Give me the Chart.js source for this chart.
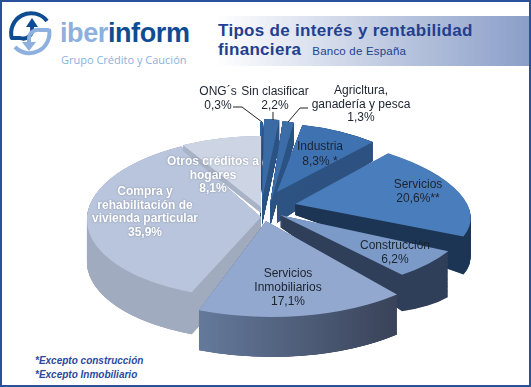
<!DOCTYPE html>
<html lang="es">
<head>
<meta charset="UTF-8">
<title>Tipos de interés y rentabilidad financiera</title>
<script src="https://cdn.jsdelivr.net/npm/chart.js"></script>
<style>
    html, body { margin: 0; padding: 0; background: #fff; }
    #page { position: relative; width: 531px; height: 387px; overflow: hidden; font-family: "Liberation Sans", Arial, sans-serif; }
    #frame { position: absolute; left: 0; top: 0; width: 527px; height: 383px; border: 2px solid #2a4f9b; }
    #logo { position: absolute; left: 6px; top: 9px; }
    #brand { position: absolute; left: 60px; top: 18px; font-size: 27px; font-weight: bold; color: #8db0de; letter-spacing: -0.4px; }
    #brand b { color: #0f4c92; }
    #group { position: absolute; left: 61px; top: 52px; font-family: "Open Sans", sans-serif; font-size: 11px; color: #8db0de; }
    #banner { position: absolute; left: 216px; top: 16px; width: 313px; height: 50px; background: linear-gradient(to right, #fff, #8a9ec8); }
    #title { position: absolute; left: 218px; top: 21px; font-size: 17px; line-height: 19px; font-weight: bold; color: #233f8f; letter-spacing: 0.3px; white-space: nowrap; }
    #title span { font-size: 11.5px; font-weight: normal; letter-spacing: 0.2px; margin-left: 6px; }
    #notes { position: absolute; left: 35px; top: 354px; font-size: 10px; line-height: 13.5px; font-weight: bold; font-style: italic; color: #2a4a9f; }
    #chart { position: absolute; left: 0; top: 0; }
</style>
</head>
<body>
<div id="page">
    <div id="frame"></div>
    <svg id="logo" width="48" height="48" viewBox="0 0 48 48" fill="none">
        <path d="M6 30 A20 20 0 0 1 41 12" stroke="#0f4c92" stroke-width="4"/>
        <path d="M43 20 A20 20 0 0 1 9 38" stroke="#8db0de" stroke-width="4"/>
        <path d="M5 29 H14 A9 9 0 0 0 26 19 V16" stroke="#0f4c92" stroke-width="4"/>
        <path d="M20 18 L26 9 L32 18 Z" fill="#0f4c92"/>
        <path d="M43 21 H34 A9 9 0 0 0 23 30 V33" stroke="#8db0de" stroke-width="4"/>
        <path d="M16 33 H30 L23 42 Z" fill="#8db0de"/>
    </svg>
    <div id="brand">iber<b>inform</b></div>
    <div id="group">Grupo Crédito y Caución</div>
    <div id="banner"></div>
    <div id="title">Tipos de interés y rentabilidad<br>financiera <span>Banco de España</span></div>
    <div id="notes">*Excepto construcción<br>*Excepto Inmobiliario</div>
    <canvas id="chart" width="531" height="387"></canvas>
</div>

<script>
    const categories = ['ONG´s', 'Sin clasificar', 'Agricltura, ganadería y pesca', 'Industria', 'Servicios',
        'Construcción', 'Servicios Inmobiliarios', 'Compra y rehabilitación de vivienda particular', 'Otros créditos a hogares'];
    const values = [0.3, 2.2, 1.3, 8.3, 20.6, 6.2, 17.1, 35.9, 8.1];
    const labelLines = [
        ['ONG´s', '0,3%'],
        ['Sin clasificar', '2,2%'],
        ['Agricltura,', 'ganadería y pesca', '1,3%'],
        ['Industria', '8,3% *'],
        ['Servicios', '20,6%**'],
        ['Construcción', '6,2%'],
        ['Servicios', 'Inmobiliarios', '17,1%'],
        ['Compra y', 'rehabilitación de', 'vivienda particular', '35,9%'],
        ['Otros créditos a', 'hogares', '8,1%']
    ];
    const faceColors = ['#2f5f9c', '#3b6ba5', '#3d6da8', '#3f72b0', '#4a7dbb', '#7c9ac8', '#92a8cf', '#b9c5dc', '#cdd5e5'];

    // how each exploded slice sits on the page: apex, radii, skew, wall depth and flare
    const sliceShape = [
        { x: 260, y: 212, rx: 160, ry: 90, skew: 0, depth: 12, flare: 0, wall: ['#24466f', '#24466f'] },
        { x: 262, y: 200, rx: 110, ry: 81, skew: 0, depth: 25, flare: 0, wall: ['#2a5283', '#2a5283'] },
        { x: 270, y: 205, rx: 135, ry: 85, skew: 0.1, depth: 22, flare: 0, wall: ['#2a5283', '#2a5283'] },
        { x: 277, y: 192, rx: 150, ry: 69, skew: 0.15, depth: 31, flare: -0.125, wall: ['#2d5585', '#2d5080'] },
        { x: 295, y: 204, rx: 172, ry: 70, skew: 0.5, depth: 11, flare: 0.16, wall: ['#1d3554', '#1d3554'] },
        { x: 280, y: 215, rx: 190, ry: 78, skew: 0, depth: 12, flare: 0.2, wall: ['#2f3f5a', '#2f3f5a'] },
        { x: 266, y: 221, rx: 197, ry: 96, skew: 0.06, depth: 40, flare: 0, wall: ['#667b9d', '#323a4e'] },
        { x: 261, y: 217, rx: 174, ry: 81, skew: -0.07, depth: 42, flare: 0, wall: ['#a0abbf', '#a3aab8'] },
        { x: 261, y: 207, rx: 160, ry: 71, skew: 0, depth: 6, flare: 0, wall: ['#a9b3c6', '#a9b3c6'] }
    ];
    const drawOrder = [1, 2, 0, 7, 8, 3, 4, 5, 6];

    const labelSpots = [
        { x: 218, y: 92, step: 13.5 },
        { x: 275, y: 92, step: 14 },
        { x: 361, y: 91, step: 13.5 },
        { x: 320, y: 147, step: 15 },
        { x: 418, y: 185, step: 13.5 },
        { x: 395, y: 246, step: 13.5 },
        { x: 288, y: 274, step: 14 },
        { x: 145, y: 192, step: 13.4, light: true },
        { x: 213, y: 162, step: 13.5, light: true }
    ];
    const leaders = [
        [[233, 107], [242, 107], [262, 122]],
        [[273, 112], [273, 120]],
        [[308, 108], [300, 108], [288, 122]]
    ];

    const BASE_RADIUS = 100;
    const STEPS_PER_PX = 6;

    function placeSlice(ctx, arc, s) {
        ctx.translate(s.x, s.y);
        ctx.transform(s.rx / BASE_RADIUS, 0, s.skew * s.ry / BASE_RADIUS, s.ry / BASE_RADIUS, 0, 0);
        ctx.translate(-arc.x, -arc.y);
    }

    function drawSlice(ctx, arc, s) {
        const faceOptions = arc.options;

        // wall: the library's arc repeated downwards
        const grad = ctx.createLinearGradient(arc.x - 40, 0, arc.x + 80, 0);
        grad.addColorStop(0, s.wall[0]);
        grad.addColorStop(1, s.wall[1]);
        arc.options = Object.assign({}, faceOptions, { backgroundColor: grad, borderWidth: 0 });
        const steps = s.depth * STEPS_PER_PX;
        for (let j = steps; j > 0; j--) {
            const t = j / steps;
            ctx.save();
            ctx.translate(s.x, s.y + s.depth * t);
            ctx.transform(1, s.flare * t, 0, 1, 0, 0);
            ctx.translate(-s.x, -s.y);
            placeSlice(ctx, arc, s);
            arc.draw(ctx);
            ctx.restore();
        }

        // top face
        arc.options = Object.assign({}, faceOptions, { borderWidth: 0 });
        ctx.save();
        placeSlice(ctx, arc, s);
        arc.draw(ctx);
        ctx.restore();
        arc.options = faceOptions;
    }

    const piePlugin = {
        id: 'tiltedPie',
        beforeDatasetDraw: function () { return false; },
        afterDraw: function (chart) {
            const ctx = chart.ctx;
            const arcs = chart.getDatasetMeta(0).data;
            drawOrder.forEach(function (i) { drawSlice(ctx, arcs[i], sliceShape[i]); });

            ctx.strokeStyle = '#222';
            ctx.lineWidth = 1;
            leaders.forEach(function (line) {
                ctx.beginPath();
                line.forEach(function (p, k) { k ? ctx.lineTo(p[0], p[1]) : ctx.moveTo(p[0], p[1]); });
                ctx.stroke();
            });

            ctx.textAlign = 'center';
            ctx.textBaseline = 'middle';
            labelLines.forEach(function (lines, i) {
                const spot = labelSpots[i];
                ctx.save();
                ctx.font = (spot.light ? 'bold ' : '') + '12px "Liberation Sans", Arial, sans-serif';
                ctx.fillStyle = spot.light ? '#fff' : '#1c2430';
                if (spot.light) {
                    ctx.shadowColor = 'rgba(90,100,120,0.6)';
                    ctx.shadowBlur = 2;
                }
                lines.forEach(function (line, k) { ctx.fillText(line, spot.x, spot.y + k * spot.step); });
                ctx.restore();
            });
        }
    };

    new Chart(document.getElementById('chart'), {
        type: 'pie',
        data: {
            labels: categories,
            datasets: [{ data: values, backgroundColor: faceColors, borderWidth: 0, radius: BASE_RADIUS }]
        },
        options: {
            responsive: false,
            animation: false,
            events: [],
            plugins: { legend: { display: false }, tooltip: { enabled: false } }
        },
        plugins: [piePlugin]
    });
</script>
</body>
</html>
